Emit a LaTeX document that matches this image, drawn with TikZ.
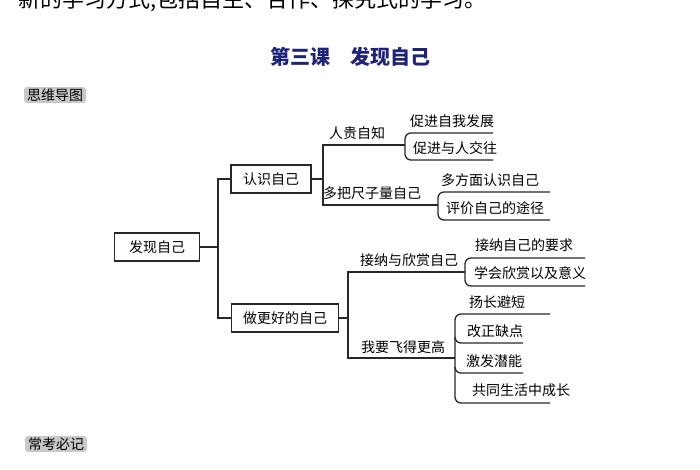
\documentclass[tikz,border=0pt]{standalone}
\usepackage{fontspec}
\setmainfont{Noto Sans CJK SC}
\definecolor{navy}{RGB}{30,35,120}
\definecolor{tagbg}{RGB}{200,200,200}
\definecolor{ln}{RGB}{40,40,40}
\begin{document}
\begin{tikzpicture}[x=1pt,y=-1pt,
  lbl/.style={font=\fontsize{14}{14}\selectfont, text=black, inner sep=0pt},
  boxn/.style={draw=ln, line width=1.3pt, font=\fontsize{14}{14}\selectfont, minimum height=28pt, inner xsep=10pt},
  ul/.style={draw=ln, line width=1.3pt},
  brk/.style={draw=ln, line width=1.3pt, rounded corners=6pt},
  tag/.style={fill=tagbg, rounded corners=3pt, font=\fontsize{14}{14}\selectfont, inner xsep=3pt, inner ysep=1.5pt}]
\useasboundingbox (0,0) rectangle (700,470);
\begin{scope}
\clip (0,0) rectangle (700,470);
\node[anchor=base west, inner sep=0pt, font=\fontsize{22}{22}\selectfont] (top) at (18,8) {新的学习方式,包括自主、合作、探究式的学习。};
\end{scope}
\node[font=\bfseries\fontsize{20}{20}\selectfont, text=navy] (title) at (350,57) {第三课\quad 发现自己};
\node[tag] (t1) at (55,95) {思维导图};
\node[tag] (t2) at (56,444) {常考必记};

\node[boxn, minimum width=85pt] (root) at (157,247) {发现自己};
\node[boxn, minimum width=80pt] (a) at (271,179) {认识自己};
\node[boxn, minimum width=107pt] (b) at (285,318) {做更好的自己};
\coordinate (tr) at (218,247);
\draw[ul] (root.east) -- (tr);
\draw[ul] (a.west) -- (218,179) -- (218,318) -- (b.west);

% 认识自己 branches
\node[lbl] (a1) at (357,133) {人贵自知};
\node[lbl] (a2) at (372,193) {多把尺子量自己};
\draw[ul] (a.east) -- (323,179);
\draw[ul] (405,145) -- (323,145) -- (323,205) -- (438,205);
\node[lbl] (a11) at (452,121) {促进自我发展};
\node[lbl] (a12) at (455,148) {促进与人交往};
\draw[brk] (493,133) -- (405,133) -- (405,160) -- (493,160);
\node[lbl] (a21) at (490,180) {多方面认识自己};
\node[lbl] (a22) at (495,208) {评价自己的途径};
\draw[brk] (550,192) -- (438,192) -- (438,220) -- (550,220);

% 做更好的自己 branches
\node[lbl] (b1) at (409,260) {接纳与欣赏自己};
\node[lbl] (b2) at (403,347) {我要飞得更高};
\draw[ul] (b.east) -- (348,318);
\draw[ul] (465,272) -- (348,272) -- (348,358) -- (455,358);
\node[lbl] (b11) at (524,245) {接纳自己的要求};
\node[lbl] (b12) at (530,273) {学会欣赏以及意义};
\draw[brk] (585,258) -- (465,258) -- (465,286) -- (585,286);
\node[lbl] (b21) at (497,302) {扬长避短};
\node[lbl] (b22) at (495,331) {改正缺点};
\node[lbl] (b23) at (494,361) {激发潜能};
\node[lbl] (b24) at (521,390) {共同生活中成长};
\draw[brk] (550,314) -- (455,314) -- (455,403) -- (550,403);
\draw[brk] (455,337) -- (455,343) -- (523,343);
\draw[brk] (455,367) -- (455,373) -- (523,373);
\end{tikzpicture}
\end{document}
